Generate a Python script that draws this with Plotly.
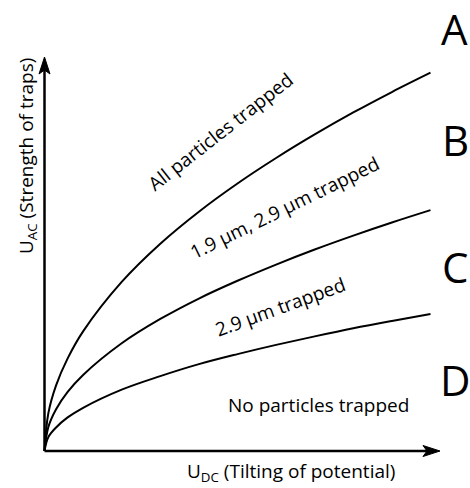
import plotly.graph_objects as go

# Readings from the picture (arbitrary units; x = U_DC, y = U_AC)
u_dc = [0, 0.1, 0.3, 0.6, 1, 2, 3, 4, 5, 6, 7, 8, 9, 10]
boundary_AB = [0, 0.98, 1.70, 2.40, 3.10, 4.38, 5.37, 6.20, 6.93, 7.59, 8.20, 8.77, 9.30, 9.80]
boundary_BC = [0, 0.62, 1.08, 1.53, 1.97, 2.79, 3.42, 3.95, 4.41, 4.83, 5.22, 5.58, 5.92, 6.24]
boundary_CD = [0, 0.36, 0.61, 0.87, 1.12, 1.59, 1.94, 2.25, 2.51, 2.75, 2.97, 3.18, 3.37, 3.55]

region_letters = ["A", "B", "C", "D"]
region_texts = ["All particles trapped", "1.9 µm, 2.9 µm trapped",
                "2.9 µm trapped", "No particles trapped"]
x_title = "U<sub>DC</sub> (Tilting of potential)"
y_title = "U<sub>AC</sub> (Strength of traps)"

FONT = "Open Sans"
W, H = 470, 488
ORIG_PX, ORIG_PY, SCALE = 44.5, 451.0, 38.6


def dx(px):
    return (px - ORIG_PX) / SCALE


def dy(py):
    return (ORIG_PY - py) / SCALE


fig = go.Figure()
for ys in (boundary_AB, boundary_BC, boundary_CD):
    fig.add_trace(go.Scatter(x=u_dc, y=ys, mode="lines",
                             line=dict(color="black", width=2, shape="spline", smoothing=1.0),
                             hoverinfo="skip", showlegend=False))

x_tip, y_tip = dx(440), dy(57)
# axes lines
fig.add_shape(type="line", x0=0, y0=0, x1=x_tip - 0.3, y1=0,
              line=dict(color="black", width=2.5), layer="above")
fig.add_shape(type="line", x0=0, y0=0, x1=0, y1=y_tip - 0.3,
              line=dict(color="black", width=2.5), layer="above")
# arrowheads
fig.add_shape(type="path", xsizemode="pixel", ysizemode="pixel",
              xanchor=x_tip, yanchor=0, path="M0,0 L-17,5.5 L-13,0 L-17,-5.5 Z",
              fillcolor="black", line=dict(color="black", width=1), layer="above")
fig.add_shape(type="path", xsizemode="pixel", ysizemode="pixel",
              xanchor=0, yanchor=y_tip, path="M0,0 L5.5,-17 L0,-13 L-5.5,-17 Z",
              fillcolor="black", line=dict(color="black", width=1), layer="above")

txt = dict(family=FONT, size=19, color="black")
# region labels
label_pos = [((220, 132), -38), ((284, 208), -26), ((280, 307), -20), ((318, 405), 0)]
for t, ((px, py), ang) in zip(region_texts, label_pos):
    fig.add_annotation(x=dx(px), y=dy(py), text=t, showarrow=False, textangle=ang,
                       xanchor="center", yanchor="middle", font=txt)

letter_pos = [(454, 28.5), (455, 139.5), (455, 266), (455, 379)]
for L, (px, py) in zip(region_letters, letter_pos):
    fig.add_annotation(x=dx(px), y=dy(py), text=L, showarrow=False,
                       xanchor="center", yanchor="middle",
                       font=dict(family=FONT, size=42, color="black"))

fig.add_annotation(x=dx(291), y=dy(472), text=x_title, showarrow=False,
                   xanchor="center", yanchor="middle", font=txt)
fig.add_annotation(x=dx(27), y=dy(156), text=y_title, showarrow=False, textangle=-90,
                   xanchor="center", yanchor="middle", font=txt)

fig.update_layout(
    width=W, height=H, margin=dict(l=0, r=0, t=0, b=0),
    paper_bgcolor="white", plot_bgcolor="white", showlegend=False,
    xaxis=dict(range=[dx(0), dx(W)], visible=False, fixedrange=True),
    yaxis=dict(range=[dy(H), dy(0)], visible=False, fixedrange=True),
)
fig.write_html("out.html")
